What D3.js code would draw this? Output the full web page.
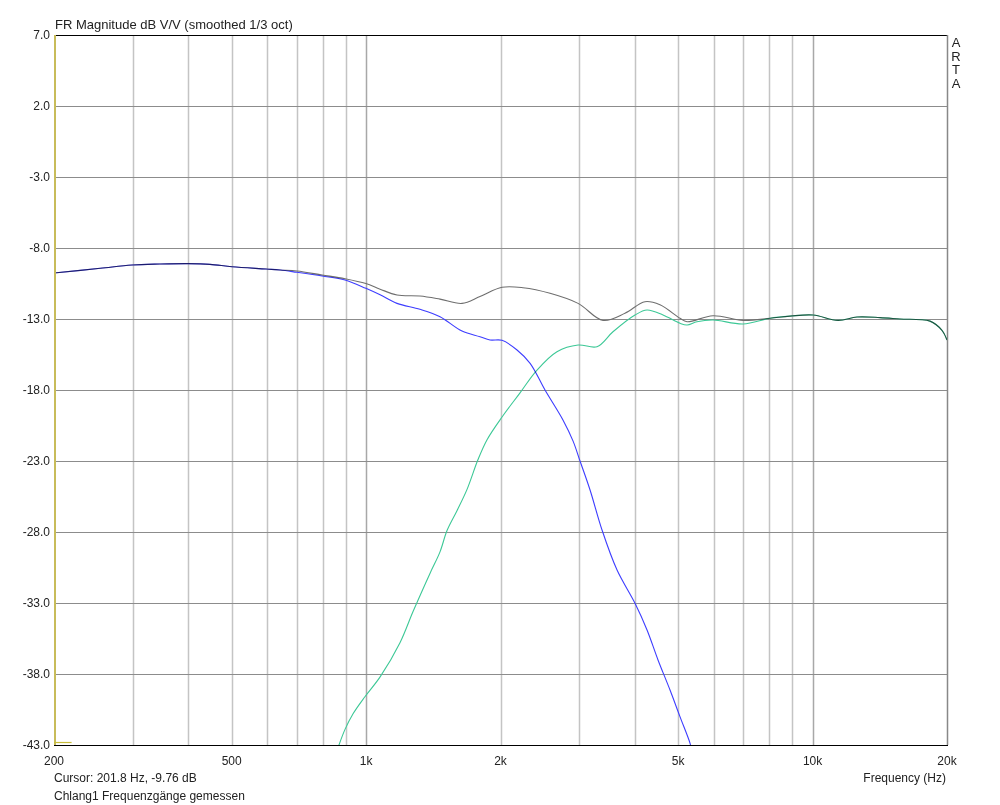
<!DOCTYPE html>
<html><head><meta charset="utf-8">
<script src="https://cdn.jsdelivr.net/npm/d3@7"></script>
<style>
body{margin:0;background:#fff;}
svg{display:block;font-family:"Liberation Sans",Arial,sans-serif;}
</style></head>
<body><svg id="c" width="1000" height="805"></svg>
<script>
const yTicks = [7, 2, -3, -8, -13, -18, -23, -28, -33, -38, -43];
const xGrid = [300,400,500,600,700,800,900,1000,2000,3000,4000,5000,6000,7000,8000,9000,10000];
const xLabels = [[200,"200"],[500,"500"],[1000,"1k"],[2000,"2k"],[5000,"5k"],[10000,"10k"],[20000,"20k"]];

const grayFreq = [200,254,299,345,399,447,501,597,642,700,797,897,999,1075,1173,1320,1464,1640,1799,2016,2246,2582,2984,3394,3800,4214,4552,5046,5234,5984,6986,8028,8902,10022,11400,12572,14154,15690,18320,19490,20000];
const grayDb   = [-9.76,-9.43,-9.2,-9.13,-9.1,-9.15,-9.32,-9.48,-9.55,-9.62,-9.9,-10.16,-10.5,-10.9,-11.31,-11.38,-11.6,-11.9,-11.42,-10.77,-10.8,-11.19,-11.9,-13.1,-12.6,-11.78,-12.0,-12.95,-13.19,-12.77,-13.1,-12.95,-12.8,-12.72,-13.1,-12.86,-12.9,-13.0,-13.15,-13.8,-14.48];

const blueFreq = [200,254,299,345,399,447,501,597,642,700,797,897,999,1075,1173,1320,1464,1640,1799,1895,2016,2178,2330,2516,2760,2908,3014,3174,3376,3648,4002,4258,4506,4794,5046,5316,5342];
const blueDb   = [-9.76,-9.43,-9.2,-9.13,-9.1,-9.15,-9.32,-9.48,-9.55,-9.71,-9.97,-10.25,-10.84,-11.3,-11.9,-12.32,-12.84,-13.85,-14.25,-14.48,-14.5,-15.18,-16.12,-18.0,-20.11,-21.6,-23.0,-25.04,-27.86,-30.68,-33.02,-34.9,-37.01,-39.13,-41.0,-42.88,-43.2];

const greenFreq = [865,897,935,994,1075,1191,1274,1391,1464,1518,1598,1683,1781,1866,2016,2212,2414,2676,2984,3290,3572,4002,4258,4624,5046,5234,5508,5984,6986,8028,8902,10022,11400,12572,14154,15690,18320,19490,20000];
const greenDb   = [-43.2,-41.9,-40.8,-39.6,-38.2,-35.8,-33.6,-30.9,-29.4,-27.9,-26.5,-25.0,-22.9,-21.5,-19.9,-18.2,-16.6,-15.3,-14.83,-14.95,-13.9,-12.72,-12.37,-12.72,-13.3,-13.42,-13.19,-13.07,-13.35,-12.95,-12.8,-12.72,-13.1,-12.86,-12.9,-13.0,-13.15,-13.8,-14.48];

const L=54, R=947, T=35, B=745;
const x = d3.scaleLog().domain([200,20000]).range([L,R]);
const y = d3.scaleLinear().domain([-43,7]).range([B,T]);
const svg = d3.select("#c");

svg.append("defs").append("clipPath").attr("id","clip")
  .append("rect").attr("x",L).attr("y",T).attr("width",R-L).attr("height",B-T);

// vertical grid
svg.append("g").selectAll("line").data(xGrid).join("line")
  .attr("x1",d=>Math.round(x(d))+0.5).attr("x2",d=>Math.round(x(d))+0.5)
  .attr("y1",T).attr("y2",B)
  .attr("stroke",d=>(d===1000||d===10000)?"#a8a8a8":"#c4c4c4").attr("stroke-width",1.5);
// horizontal grid
svg.append("g").selectAll("line").data(yTicks.slice(1,-1)).join("line")
  .attr("x1",L).attr("x2",R)
  .attr("y1",d=>Math.round(y(d))+0.5).attr("y2",d=>Math.round(y(d))+0.5)
  .attr("stroke","#8c8c8c").attr("stroke-width",1);

// frame
svg.append("line").attr("x1",L).attr("x2",R).attr("y1",T+0.5).attr("y2",T+0.5).attr("stroke","#000");
svg.append("line").attr("x1",L).attr("x2",R+1).attr("y1",B+0.5).attr("y2",B+0.5).attr("stroke","#000");
svg.append("line").attr("x1",R+0.5).attr("x2",R+0.5).attr("y1",T).attr("y2",B).attr("stroke","#888").attr("stroke-width",1.5);

// curves
const g = svg.append("g").attr("clip-path","url(#clip)");
const line = d3.line().x(d=>x(d[0])).y(d=>y(d[1])).curve(d3.curveCatmullRom.alpha(0.5));
function draw(fr, db, color){
  g.append("path").datum(fr.map((f,i)=>[f,db[i]]))
   .attr("d",line).attr("fill","none").attr("stroke",color).attr("stroke-width",1.1)
   .style("mix-blend-mode","multiply");
}
draw(grayFreq, grayDb, "#6e6e6e");
draw(blueFreq, blueDb, "#3d3dff");
draw(greenFreq, greenDb, "#3cc896");

// yellow cursor lines
svg.append("line").attr("x1",L+1).attr("x2",L+1).attr("y1",T).attr("y2",B).attr("stroke","#c8bc5a").attr("stroke-width",2);
svg.append("line").attr("x1",L).attr("x2",x(219)).attr("y1",B-2.5).attr("y2",B-2.5).attr("stroke","#c8bc3a").attr("stroke-width",1.2);

// y labels
svg.append("g").selectAll("text").data(yTicks).join("text")
  .attr("x",L-4).attr("y",d=>y(d)).attr("dy","0.35em").attr("text-anchor","end")
  .attr("font-size",12).attr("fill","#222").text(d=>d.toFixed(1));
// x labels
svg.append("g").selectAll("text").data(xLabels).join("text")
  .attr("x",d=>x(d[0])).attr("y",765).attr("text-anchor","middle")
  .attr("font-size",12).attr("fill","#222").text(d=>d[1]);

svg.append("text").attr("x",55).attr("y",29).attr("font-size",13).attr("fill","#222").text("FR Magnitude dB V/V (smoothed 1/3 oct)");
svg.append("text").attr("x",R-1).attr("y",782).attr("text-anchor","end").attr("font-size",12).attr("fill","#222").text("Frequency (Hz)");
svg.append("text").attr("x",L).attr("y",782).attr("font-size",12).attr("fill","#222").text("Cursor: 201.8 Hz, -9.76 dB");
svg.append("text").attr("x",L).attr("y",800).attr("font-size",12).attr("fill","#222").text("Chlang1 Frequenzgänge gemessen");
svg.append("g").selectAll("text").data(["A","R","T","A"]).join("text")
  .attr("x",956).attr("y",(d,i)=>47+i*13.5).attr("text-anchor","middle")
  .attr("font-size",13).attr("fill","#222").text(d=>d);
</script></body></html>
